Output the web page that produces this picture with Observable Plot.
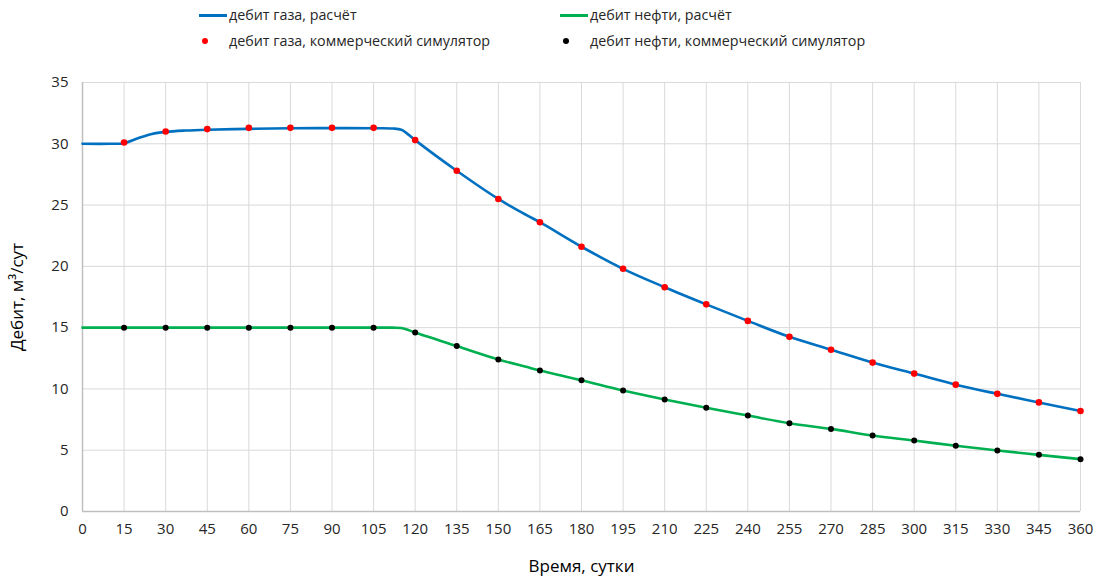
<!DOCTYPE html>
<html><head><meta charset="utf-8">
<script src="https://cdn.jsdelivr.net/npm/d3@7"></script>
<script src="https://cdn.jsdelivr.net/npm/@observablehq/plot@0.6"></script>
<style>
body{margin:0;background:#fff;font-family:"Open Sans",sans-serif;}
#wrap{position:relative;width:1099px;height:579px;}
#legend{position:relative;height:70px;width:1099px;}
.li{position:absolute;font-size:14.3px;color:#262626;line-height:18px;white-space:nowrap;}
.sw{position:absolute;}
</style></head><body>
<div id="wrap">
<div id="legend"></div>
<div id="chart"></div>
</div>
<script>
// simulator points (every 15 days)
const simDays = [15,30,45,60,75,90,105,120,135,150,165,180,195,210,225,240,255,270,285,300,315,330,345,360];
const gasSim = [30.1,31.0,31.2,31.3,31.3,31.3,31.3,30.3,27.8,25.5,23.6,21.6,19.8,18.3,16.9,15.55,14.25,13.2,12.15,11.25,10.35,9.6,8.9,8.2];
const oilSim = [15.0,15.0,15.0,15.0,15.0,15.0,15.0,14.6,13.5,12.4,11.5,10.7,9.87,9.14,8.46,7.83,7.2,6.74,6.2,5.79,5.36,4.98,4.62,4.27];
// calculated curves
const calcDays = [0,10,15,20,25,30,37,45,60,75,90,105,112,115,117,120,135,150,160,165,180,195,210,225,240,255,270,285,300,315,330,345,360];
const gasCalc = [30.0,30.0,30.05,30.45,30.8,30.97,31.08,31.15,31.22,31.27,31.28,31.27,31.25,31.15,30.85,30.3,27.8,25.5,24.2,23.6,21.6,19.8,18.3,16.9,15.55,14.25,13.2,12.15,11.25,10.35,9.6,8.9,8.2];
const oilCalc = [15.0,15.0,15.0,15.0,15.0,15.0,15.0,15.0,15.0,15.0,15.0,15.0,15.0,14.97,14.85,14.6,13.5,12.4,11.8,11.5,10.7,9.87,9.14,8.46,7.83,7.2,6.74,6.2,5.79,5.36,4.98,4.62,4.27];
const xTicks = d3.range(0, 361, 15);
const yTicks = [0,5,10,15,20,25,30,35];
const legendItems = [
  {label:"дебит газа, расчёт", kind:"line", color:"#0070c0", x:199, y:15},
  {label:"дебит нефти, расчёт", kind:"line", color:"#00b050", x:560, y:15},
  {label:"дебит газа, коммерческий симулятор", kind:"dot", color:"#ff0000", x:199, y:41},
  {label:"дебит нефти, коммерческий симулятор", kind:"dot", color:"#000000", x:560, y:41}
];

const gasC = calcDays.map((d,i)=>({d, v:gasCalc[i]}));
const oilC = calcDays.map((d,i)=>({d, v:oilCalc[i]}));
const gasS = simDays.map((d,i)=>({d, v:gasSim[i]}));
const oilS = simDays.map((d,i)=>({d, v:oilSim[i]}));

const lg = document.getElementById("legend");
for (const it of legendItems) {
  const s = document.createElement("div");
  s.className = "sw";
  if (it.kind === "line") {
    s.style.cssText = `left:${it.x}px;top:${it.y-1.5}px;width:28px;height:3px;background:${it.color}`;
  } else {
    s.style.cssText = `left:${it.x+3}px;top:${it.y-3}px;width:6px;height:6px;border-radius:50%;background:${it.color}`;
  }
  lg.appendChild(s);
  const t = document.createElement("div");
  t.className = "li";
  t.style.left = (it.x + 30) + "px";
  t.style.top = (it.y - 9) + "px";
  t.textContent = it.label;
  lg.appendChild(t);
}

const chart = Plot.plot({
  width: 1099,
  height: 509,
  marginTop: 12,
  marginBottom: 68,
  marginLeft: 82,
  marginRight: 19,
  style: {fontFamily: "Open Sans, sans-serif", fontSize: "15px", color: "#404040", background: "#fff"},
  x: {domain: [0, 360], ticks: xTicks, tickSize: 0, tickPadding: 12, label: "Время, сутки", labelAnchor: "center", labelArrow: "none", labelOffset: 60},
  y: {domain: [0, 35], ticks: yTicks, tickSize: 0, tickPadding: 14, label: "Дебит, м³/сут", labelAnchor: "center", labelArrow: "none", labelOffset: 72},
  marks: [
    Plot.gridX(xTicks, {stroke: "#d9d9d9", strokeOpacity: 1, strokeWidth: 1}),
    Plot.gridY(yTicks, {stroke: "#d9d9d9", strokeOpacity: 1, strokeWidth: 1}),
    Plot.ruleX([0], {stroke: "#bfbfbf", strokeWidth: 1.5}),
    Plot.ruleY([0], {stroke: "#bfbfbf", strokeWidth: 1.5}),
    Plot.line(gasC, {x: "d", y: "v", stroke: "#0070c0", strokeWidth: 2.6, curve: "catmull-rom"}),
    Plot.line(oilC, {x: "d", y: "v", stroke: "#00b050", strokeWidth: 2.6, curve: "catmull-rom"}),
    Plot.dot(gasS, {x: "d", y: "v", fill: "#ff0000", r: 3.3}),
    Plot.dot(oilS, {x: "d", y: "v", fill: "#000000", r: 3})
  ]
});
document.getElementById("chart").appendChild(chart);
chart.querySelectorAll("[aria-label='x-axis label'] text, [aria-label='y-axis label'] text").forEach(t => {
  t.style.fontSize = "17px"; t.style.fill = "#000";
});
chart.querySelectorAll("[aria-label='x-axis tick label'] text, [aria-label='y-axis tick label'] text").forEach(t => {
  t.style.fill = "#262626";
});
</script>
</body></html>
